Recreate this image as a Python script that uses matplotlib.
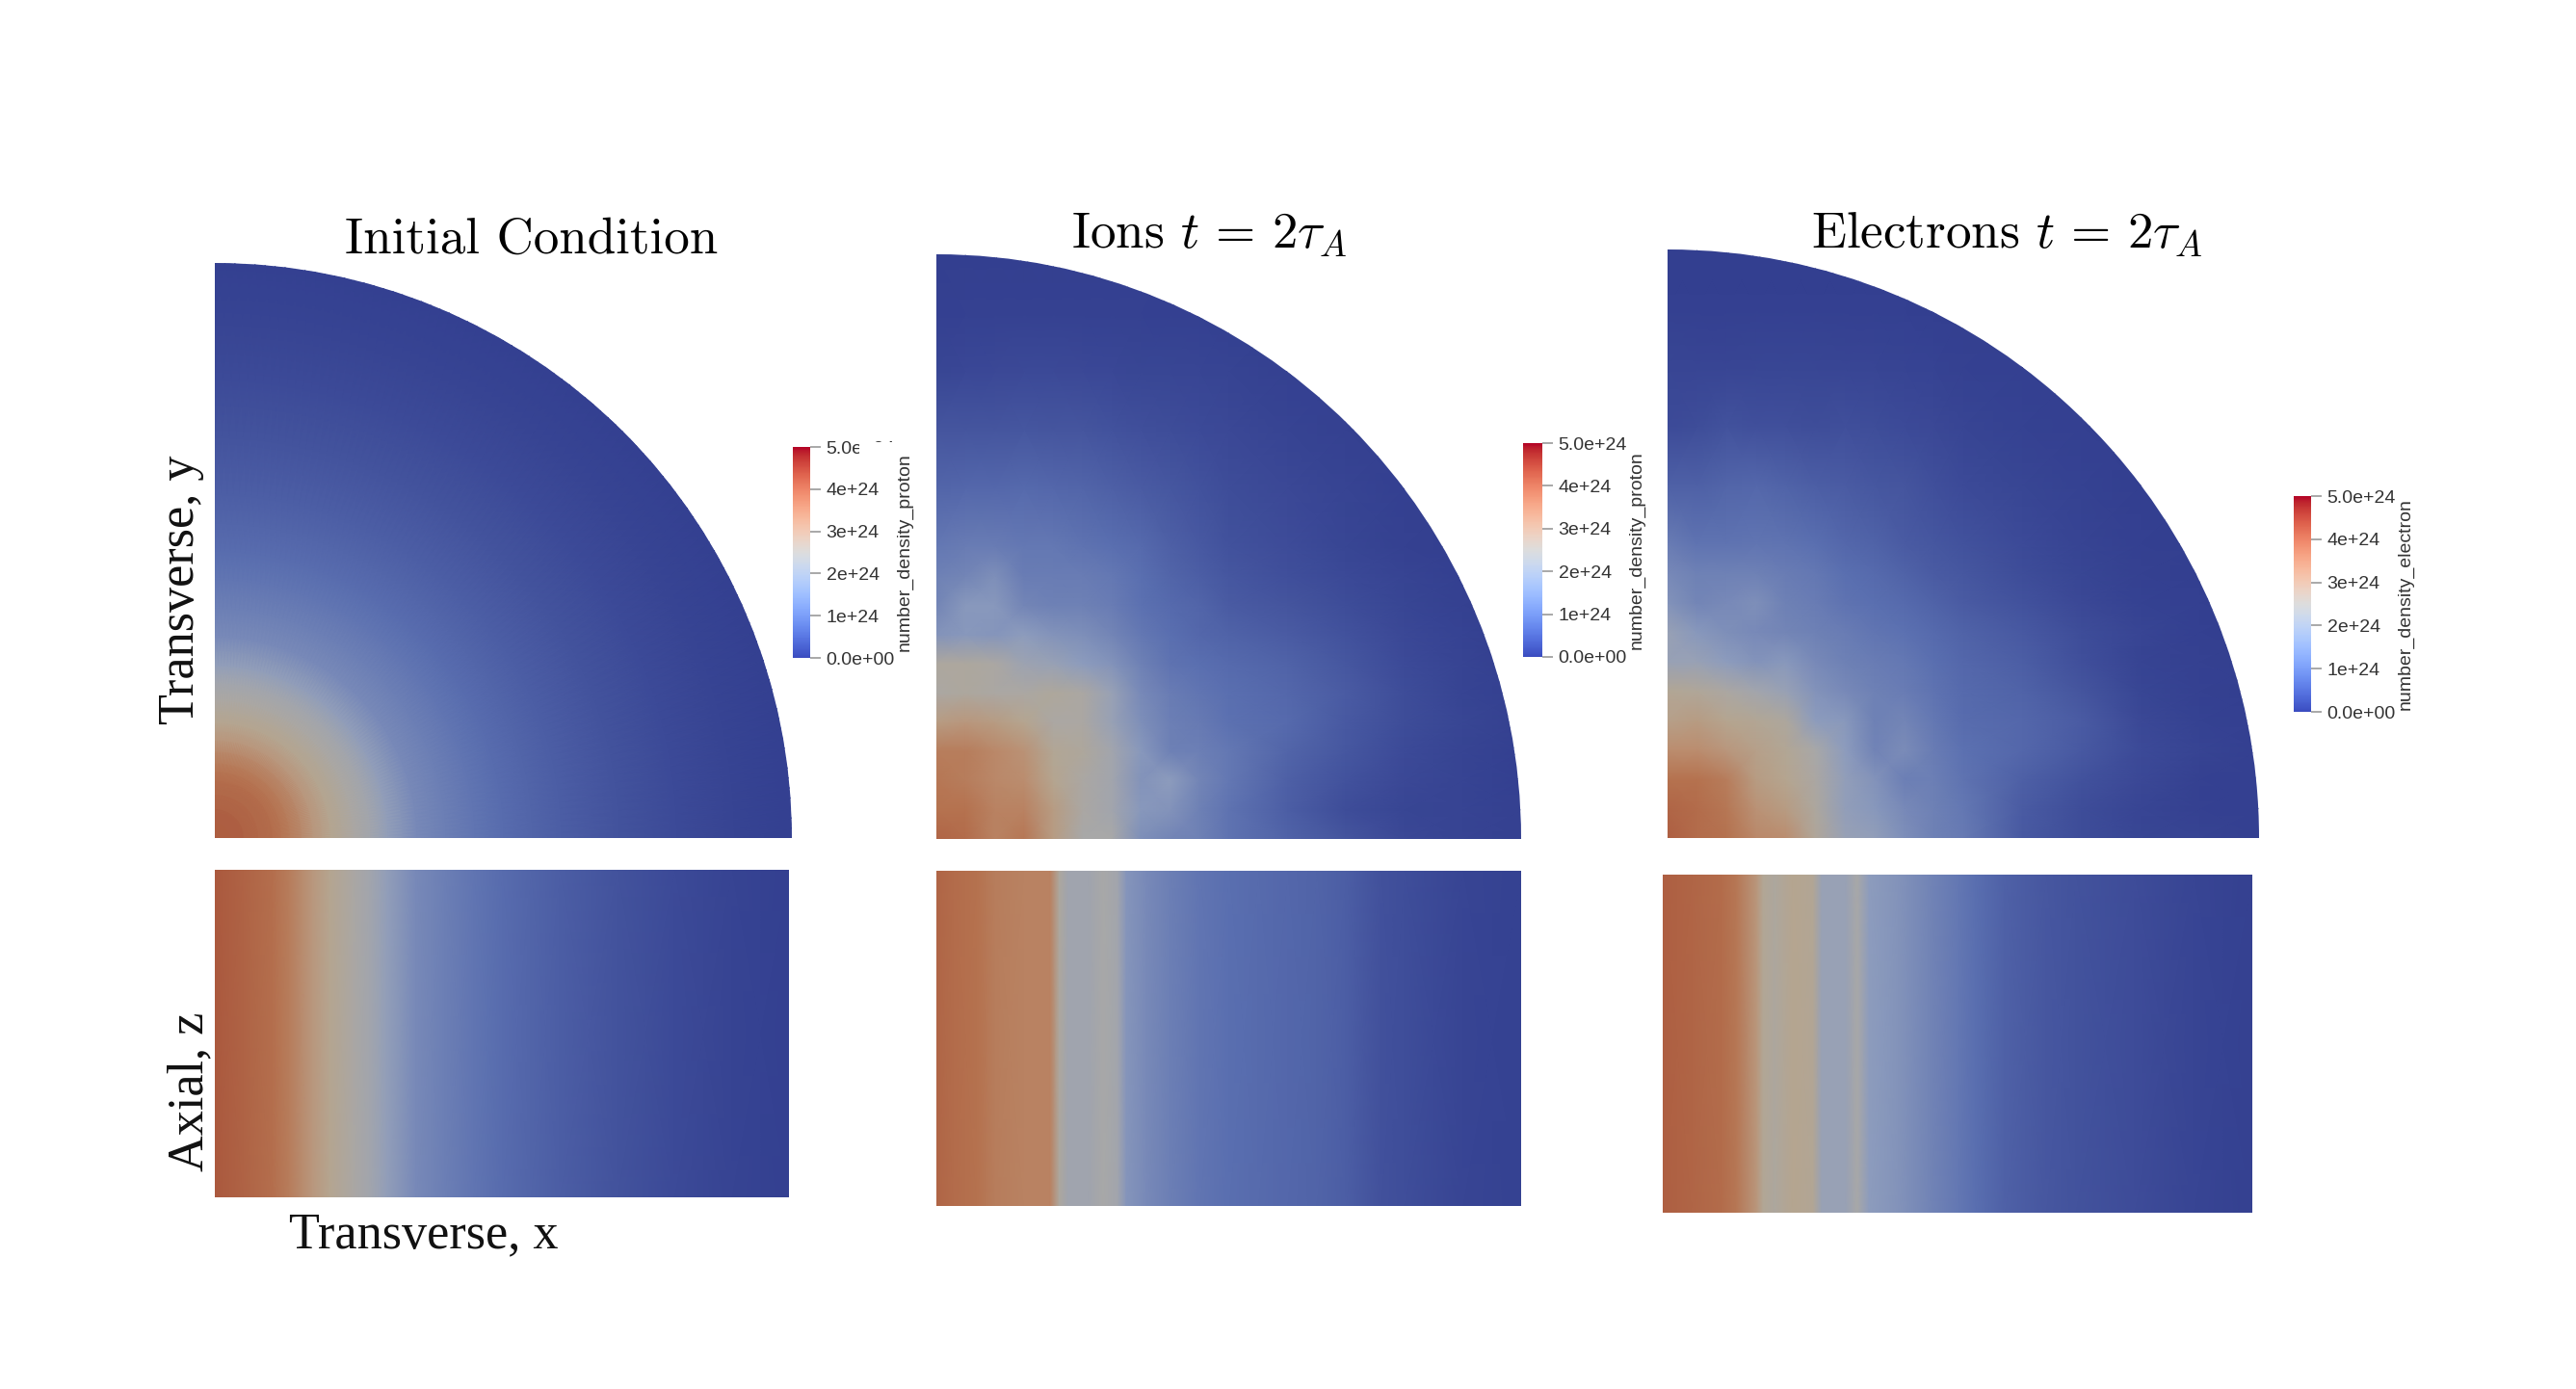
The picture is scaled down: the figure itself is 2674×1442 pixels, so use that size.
import matplotlib
matplotlib.use('Agg')
import matplotlib.pyplot as plt
from matplotlib.colors import LinearSegmentedColormap, Normalize
from matplotlib.cm import ScalarMappable
from matplotlib.patches import Wedge, Rectangle
import numpy as np

W, H = 2674, 1442
DPI = 200

plt.rcParams['mathtext.fontset'] = 'cm'
plt.rcParams['axes.unicode_minus'] = False

# all densities are in units of 1e24
cbar_ticks = [0, 1, 2, 3, 4, 5]
cbar_labels = ['0.0e+00', '1e+24', '2e+24', '3e+24', '4e+24', '5.0e+24']

# initial condition, function of radius only
ic_r = [0, .05, .1, .13, .17, .2, .24, .27, .3, .35, .4, .45, .5, .55, .6, .7, .8, .9, 1]
ic_n = [4.4, 4.25, 4.05, 3.8, 3.3, 3.0, 2.6, 2.4, 2.1, 1.6, 1.35, 1.15, .95, .8, .65, .42, .25, .1, .03]

# grid nodes for the transverse cuts
grid_x = [0, .05, .1, .15, .2, .25, .3, .35, .4, .45, .5, .6, .7, .8, .9, 1]
grid_y = [0, .05, .1, .15, .2, .25, .3, .35, .4, .45, .5, .6, .7, .8, .9, 1]

ion_xy = [
    [4.2, 4.1, 3.7, 3.9, 3.2, 2.5, 2.5, 1.7, 1.5, 1.4, 1.1, .75, .45, .2, .1, .05],
    [4.0, 4.0, 3.7, 3.7, 3.2, 2.6, 2.4, 1.9, 1.8, 1.4, 1.1, .65, .3, .15, .1, .05],
    [3.9, 3.8, 3.6, 3.5, 3.0, 2.6, 2.4, 1.8, 2.0, 1.5, 1.2, .7, .4, .2, .1, .03],
    [3.8, 3.8, 3.6, 3.4, 2.9, 2.75, 2.4, 1.9, 1.4, 1.35, 1.2, .8, .5, .25, .1, .03],
    [3.2, 3.3, 3.2, 3.0, 2.6, 2.6, 2.2, 1.7, 1.35, 1.25, 1.05, .9, .55, .3, .15, .05],
    [2.6, 2.7, 2.6, 2.6, 2.75, 2.6, 2.2, 1.6, 1.3, 1.15, 1.0, .85, .6, .3, .1, .03],
    [2.7, 2.7, 2.6, 2.3, 2.2, 2.0, 1.8, 1.4, 1.1, 1.0, .9, .75, .5, .25, .1, 0],
    [1.8, 1.9, 1.85, 2.0, 1.8, 1.7, 1.5, 1.2, 1.0, .85, .75, .6, .4, .2, .08, 0],
    [1.5, 1.9, 1.9, 1.5, 1.4, 1.4, 1.3, 1.05, .9, .8, .6, .45, .3, .15, .05, 0],
    [1.4, 1.5, 1.7, 1.3, 1.3, 1.3, 1.2, 1.0, .8, .65, .5, .35, .22, .1, .03, 0],
    [1.2, 1.3, 1.3, 1.2, 1.2, 1.1, 1.0, .9, .7, .55, .4, .28, .15, .05, 0, 0],
    [.8, .85, .85, .9, .85, .8, .7, .6, .5, .4, .3, .2, .1, .03, 0, 0],
    [.45, .45, .45, .5, .45, .45, .4, .35, .3, .25, .2, .1, .05, 0, 0, 0],
    [.15, .18, .2, .22, .22, .2, .18, .15, .14, .12, .1, .05, .02, 0, 0, 0],
    [.03, .05, .05, .05, .05, .05, .05, .04, .03, .02, .01, 0, 0, 0, 0, 0],
    [0, 0, 0, 0, 0, 0, 0, 0, 0, 0, 0, 0, 0, 0, 0, 0],
]

electron_xy = [
    [4.3, 4.1, 4.0, 3.6, 3.5, 2.8, 2.2, 2.1, 1.7, 1.4, 1.25, .55, .3, .15, .1, .03],
    [4.2, 4.1, 3.9, 3.4, 3.2, 2.7, 2.1, 1.9, 1.6, 1.4, 1.2, .6, .3, .12, .05, .02],
    [4.0, 4.0, 3.8, 3.2, 3.0, 2.6, 2.1, 1.8, 1.35, 1.35, 1.1, .7, .4, .2, .05, .02],
    [3.5, 3.5, 3.3, 3.1, 2.9, 2.5, 2.0, 1.45, 1.65, 1.3, 1.05, .85, .55, .25, .1, .02],
    [3.1, 3.2, 3.0, 2.9, 2.7, 2.0, 1.9, 1.4, 1.5, 1.2, .95, .85, .6, .2, .07, .02],
    [2.9, 2.8, 2.6, 2.4, 2.2, 1.8, 1.6, 1.4, 1.3, 1.1, .9, .75, .45, .15, .05, 0],
    [2.2, 2.2, 2.0, 1.8, 1.9, 1.6, 1.4, 1.3, 1.2, 1.0, .85, .65, .35, .1, .05, 0],
    [2.2, 1.9, 1.7, 1.6, 1.5, 1.4, 1.3, 1.15, 1.05, .9, .75, .55, .3, .12, .03, 0],
    [1.8, 1.5, 1.6, 1.7, 1.4, 1.3, 1.1, 1.0, .9, .75, .6, .4, .2, .07, .02, 0],
    [1.6, 1.4, 1.4, 1.4, 1.3, 1.2, 1.0, .9, .75, .6, .5, .3, .15, .05, 0, 0],
    [1.3, 1.1, 1.1, 1.15, 1.1, 1.0, .85, .75, .6, .5, .4, .25, .1, .03, 0, 0],
    [.7, .7, .8, .85, .75, .65, .6, .5, .45, .35, .25, .15, .07, 0, 0, 0],
    [.25, .3, .4, .35, .35, .3, .35, .3, .25, .2, .12, .07, .02, 0, 0, 0],
    [.15, .12, .12, .15, .15, .15, .12, .12, .1, .08, .05, .02, 0, 0, 0, 0],
    [.02, .03, .03, .03, .03, .03, .02, .02, .02, .01, 0, 0, 0, 0, 0, 0],
    [0, 0, 0, 0, 0, 0, 0, 0, 0, 0, 0, 0, 0, 0, 0, 0],
]

# axial cuts, function of x
ion_cut_x = [0, .03, .07, .1, .15, .195, .21, .225, .26, .285, .31, .325, .36, .4, .45, .5, .55, .6, .65, .7, .76, .8, .9, 1]
ion_cut_n = [4.2, 4.1, 4.0, 3.8, 3.7, 3.7, 2.7, 2.35, 2.35, 2.5, 2.4, 1.85, 1.6, 1.35, 1.15, 1.0, .92, .85, .78, .65, .38, .32, .13, .06]
electron_cut_x = [0, .05, .1, .125, .16, .17, .19, .22, .255, .27, .31, .33, .35, .4, .45, .5, .53, .58, .65, .7, .8, .9, 1]
electron_cut_n = [4.3, 4.2, 4.1, 3.9, 3.3, 2.9, 2.7, 3.0, 2.9, 2.2, 2.2, 2.5, 2.0, 1.8, 1.5, 1.2, 1.0, .72, .52, .42, .28, .12, .04]


def px_axes(fig, x0, x1, top, bottom):
    return fig.add_axes([x0 / W, 1 - bottom / H, (x1 - x0) / W, (bottom - top) / H])


def px_text(fig, x, y, s, **kw):
    fig.text(x / W, 1 - y / H, s, ha='center', va='center', **kw)


fig = plt.figure(figsize=(W / DPI, H / DPI), dpi=DPI, facecolor='white')

# paraview lighting dims the mesh compared to the colour bar, so it gets its own stops
shaded = LinearSegmentedColormap.from_list('shaded', [
    (0.0, '#333f90'), (0.2, '#5a6fb0'), (0.4, '#8d9cbd'), (0.5, '#a8a8a8'),
    (0.6, '#b5a590'), (0.7, '#bb8e70'), (0.8, '#b5724f'), (0.88, '#ac5a3f'), (1.0, '#8a1a20')])
norm = Normalize(0, 5)


def draw_quarter(box, X, Y, C):
    ax = px_axes(fig, *box)
    mesh = ax.pcolormesh(X, Y, C, cmap=shaded, norm=norm, shading='gouraud')
    mesh.set_clip_path(Wedge((0, 0), 1, 0, 90, transform=ax.transData))
    ax.set_xlim(0, 1)
    ax.set_ylim(0, 1)
    ax.axis('off')


def draw_cut(box, xs, ns):
    ax = px_axes(fig, *box)
    C = np.vstack([ns, ns])
    ax.pcolormesh(xs, [0, 1], C, cmap=shaded, norm=norm, shading='gouraud')
    ax.set_xlim(0, 1)
    ax.set_ylim(0, 1)
    ax.axis('off')


def draw_cbar(box, label):
    cax = px_axes(fig, *box)
    cb = fig.colorbar(ScalarMappable(norm=norm, cmap='coolwarm'), cax=cax)
    cb.outline.set_visible(False)
    cb.set_ticks(cbar_ticks)
    cb.set_ticklabels(cbar_labels)
    cb.ax.tick_params(length=4, width=0.6, color='#999999', labelsize=7, labelcolor='#333333', pad=2)
    for t in cb.ax.get_yticklabels():
        t.set_fontfamily('Liberation Sans')
    cb.set_label(label, fontsize=7, family='Liberation Sans', color='#333333', labelpad=0.5)


# quarter discs
theta = np.radians(np.linspace(0, 90, 91))
rr, tt = np.meshgrid(ic_r, theta)
draw_quarter((223, 822, 273, 870), rr * np.cos(tt), rr * np.sin(tt),
             np.tile(ic_n, (len(theta), 1)))
gx, gy = np.meshgrid(grid_x, grid_y)
draw_quarter((972, 1579, 264, 871), gx, gy, np.array(ion_xy))
draw_quarter((1731, 2345, 259, 870), gx, gy, np.array(electron_xy))

# axial cuts
draw_cut((223, 819, 903, 1243), ic_r, ic_n)
draw_cut((972, 1579, 904, 1252), ion_cut_x, ion_cut_n)
draw_cut((1726, 2338, 908, 1259), electron_cut_x, electron_cut_n)

# colour bars
draw_cbar((823, 841, 464, 683), 'number_density_proton')
draw_cbar((1581, 1601, 460, 682), 'number_density_proton')
draw_cbar((2381, 2399, 515, 739), 'number_density_electron')

# the first bar has its top label partly covered in the original
fig.add_artist(Rectangle((892 / W, 1 - 478 / H), 36 / W, 19 / H, transform=fig.transFigure,
                         facecolor='white', edgecolor='none', zorder=5))

# titles
px_text(fig, 552, 249, 'Initial Condition', family='cmr10', fontsize=19.1, color='black')
px_text(fig, 1255, 244, r'Ions $t\,=\,2\tau_A$', family='cmr10', fontsize=19.1, color='black')
px_text(fig, 2083, 244, r'Electrons $t\,=\,2\tau_A$', family='cmr10', fontsize=19.1, color='black')

# axis names
serif = dict(family='Liberation Serif', fontsize=18.8, color='#111111')
px_text(fig, 188, 612, 'Transverse, y', rotation=90, **serif)
px_text(fig, 197, 1133, 'Axial, z', rotation=90, **serif)
px_text(fig, 440, 1282, 'Transverse, x', **serif)

fig.savefig('out.png', dpi=DPI, facecolor='white')
